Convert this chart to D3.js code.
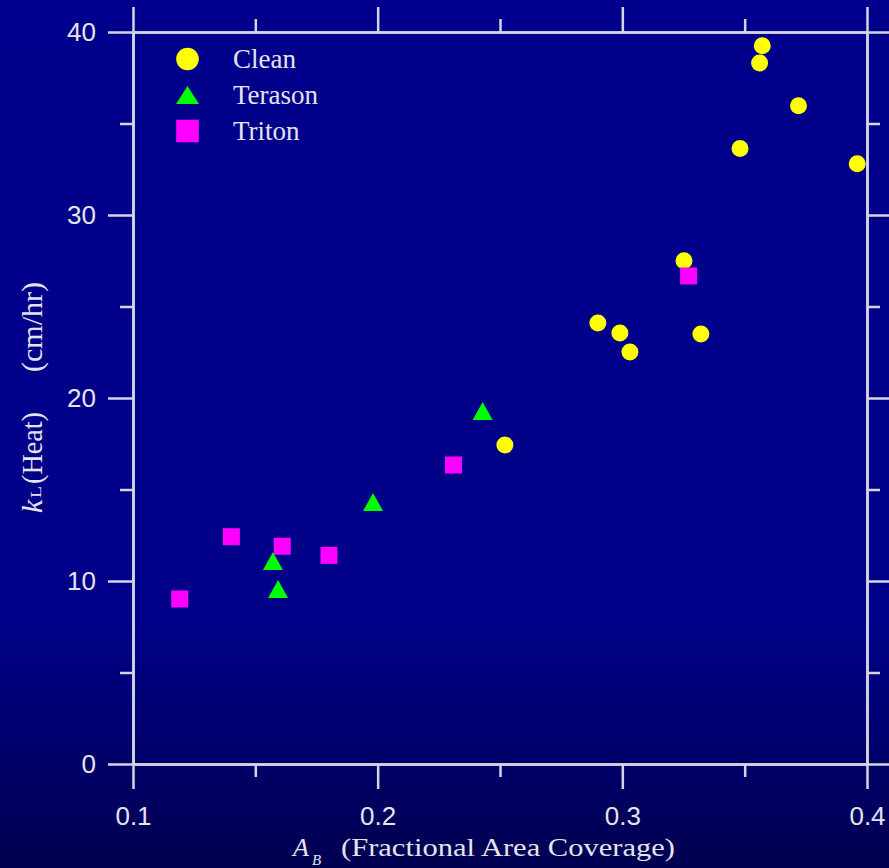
<!DOCTYPE html>
<html>
<head>
<meta charset="utf-8">
<script src="https://cdn.jsdelivr.net/npm/d3@7"></script>
<style>
  html, body { margin: 0; padding: 0; background: #00008b; }
  svg { display: block; }
</style>
</head>
<body>
<svg id="chart" width="889" height="868"></svg>
<script>
// Mass-transfer coefficient vs. fractional area coverage
const cleanX   = [0.3572, 0.3561, 0.3720, 0.3481, 0.3960, 0.3252, 0.2900, 0.2990, 0.3031, 0.3321, 0.2520];
const cleanY   = [39.25, 38.31, 35.97, 33.64, 32.80, 27.50, 24.10, 23.55, 22.51, 23.50, 17.43];
const terasonX = [0.1572, 0.1593, 0.1981, 0.2429];
const terasonY = [11.09, 9.56, 14.32, 19.29];
const tritonX  = [0.1191, 0.1402, 0.1610, 0.1801, 0.2310, 0.3271];
const tritonY  = [9.02, 12.42, 11.90, 11.40, 16.34, 26.67];

const seriesNames = ["Clean", "Terason", "Triton"];
const xMajorTicks = [0.1, 0.2, 0.3, 0.4];
const xMinorTicks = [0.15, 0.25, 0.35];
const yMajorTicks = [0, 10, 20, 30, 40];
const yMinorTicks = [5, 15, 25, 35];

const W = 889, H = 868;
const mLeft = 133, mRight = 867, mTop = 32, mBottom = 764;
const lineColor = "#d4d4e4";
const textColor = "#e4e4ec";

const svg = d3.select("#chart");

// background with darkening toward the bottom
const defs = svg.append("defs");
const grad = defs.append("linearGradient").attr("id", "bg").attr("x1", 0).attr("y1", 0).attr("x2", 0).attr("y2", 1);
grad.append("stop").attr("offset", "0").attr("stop-color", "#00008c");
grad.append("stop").attr("offset", "0.72").attr("stop-color", "#000088");
grad.append("stop").attr("offset", "1").attr("stop-color", "#000050");
svg.append("rect").attr("width", W).attr("height", H).attr("fill", "url(#bg)");

const x = d3.scaleLinear().domain([0.1, 0.4]).range([mLeft, mRight]);
const y = d3.scaleLinear().domain([0, 40]).range([mBottom, mTop]);

const fmtX = d3.format(".1f");

function styleAxis(g) {
  g.selectAll("path.domain").attr("stroke", lineColor).attr("stroke-width", 2.5);
  g.selectAll(".tick line").attr("stroke", lineColor).attr("stroke-width", 2.5);
  g.selectAll("text").attr("fill", textColor)
    .style("font-family", "'Liberation Sans', Arial, Helvetica, sans-serif")
    .style("font-size", "26px");
}

// minor ticks (short), drawn first
svg.append("g").attr("transform", `translate(0,${mBottom})`)
  .call(d3.axisBottom(x).tickValues(xMinorTicks).tickSize(13).tickSizeOuter(0).tickFormat(""))
  .call(styleAxis);
svg.append("g").attr("transform", `translate(0,${mTop})`)
  .call(d3.axisTop(x).tickValues(xMinorTicks).tickSize(13).tickSizeOuter(0).tickFormat(""))
  .call(styleAxis);
svg.append("g").attr("transform", `translate(${mLeft},0)`)
  .call(d3.axisLeft(y).tickValues(yMinorTicks).tickSize(13).tickSizeOuter(0).tickFormat(""))
  .call(styleAxis);
svg.append("g").attr("transform", `translate(${mRight},0)`)
  .call(d3.axisRight(y).tickValues(yMinorTicks).tickSize(13).tickSizeOuter(0).tickFormat(""))
  .call(styleAxis);

// major ticks with labels on bottom and left
svg.append("g").attr("transform", `translate(0,${mBottom})`)
  .call(d3.axisBottom(x).tickValues(xMajorTicks).tickSize(25).tickSizeOuter(0).tickPadding(18).tickFormat(fmtX))
  .call(styleAxis);
svg.append("g").attr("transform", `translate(0,${mTop})`)
  .call(d3.axisTop(x).tickValues(xMajorTicks).tickSize(25).tickSizeOuter(0).tickFormat(""))
  .call(styleAxis);
svg.append("g").attr("transform", `translate(${mLeft},0)`)
  .call(d3.axisLeft(y).tickValues(yMajorTicks).tickSize(25).tickSizeOuter(0).tickPadding(12).tickFormat(d3.format("d")))
  .call(styleAxis);
svg.append("g").attr("transform", `translate(${mRight},0)`)
  .call(d3.axisRight(y).tickValues(yMajorTicks).tickSize(25).tickSizeOuter(0).tickFormat(""))
  .call(styleAxis);

// marker shapes
const triPath = (w, h) => `M0,${-h / 2}L${w / 2},${h / 2}L${-w / 2},${h / 2}Z`;

const clean = cleanX.map((v, i) => ({ x: v, y: cleanY[i] }));
const terason = terasonX.map((v, i) => ({ x: v, y: terasonY[i] }));
const triton = tritonX.map((v, i) => ({ x: v, y: tritonY[i] }));

const plot = svg.append("g");

plot.selectAll("circle.clean").data(clean).join("circle")
  .attr("class", "clean")
  .attr("cx", d => x(d.x)).attr("cy", d => y(d.y)).attr("r", 8.5)
  .attr("fill", "#ffff00");

plot.selectAll("path.terason").data(terason).join("path")
  .attr("class", "terason")
  .attr("d", triPath(20, 18))
  .attr("transform", d => `translate(${x(d.x)},${y(d.y)})`)
  .attr("fill", "#00ff00");

const sq = 17;
plot.selectAll("rect.triton").data(triton).join("rect")
  .attr("class", "triton")
  .attr("x", d => x(d.x) - sq / 2).attr("y", d => y(d.y) - sq / 2)
  .attr("width", sq).attr("height", sq)
  .attr("fill", "#ff00ff");

// legend
const legend = svg.append("g").attr("transform", "translate(187.5,59)");
const rowGap = 36;
const serif = "'Liberation Serif', 'Times New Roman', Times, serif";
legend.append("circle").attr("cx", 0).attr("cy", 0).attr("r", 11.3).attr("fill", "#ffff00");
legend.append("path").attr("d", triPath(23, 18)).attr("transform", `translate(0,${rowGap})`).attr("fill", "#00ff00");
legend.append("rect").attr("x", -11.3).attr("y", 2 * rowGap - 11.3).attr("width", 22.6).attr("height", 22.6).attr("fill", "#ff00ff");
legend.selectAll("text").data(seriesNames).join("text")
  .attr("x", 45.5).attr("y", (d, i) => i * rowGap + 9)
  .attr("fill", textColor)
  .style("font-family", serif).style("font-size", "27px")
  .text(d => d);

// x-axis title
const xt = svg.append("g").attr("fill", textColor).style("font-family", serif);
xt.append("text").attr("x", 293).attr("y", 856)
  .style("font-size", "26px").style("font-style", "italic").text("A");
xt.append("text").attr("x", 312).attr("y", 865)
  .style("font-size", "15px").style("font-style", "italic").text("B");
xt.append("text").attr("x", 341).attr("y", 856)
  .style("font-size", "26px")
  .attr("textLength", 334).attr("lengthAdjust", "spacingAndGlyphs")
  .text("(Fractional Area Coverage)");

// y-axis title (rotated)
const yt = svg.append("g").attr("fill", textColor).style("font-family", serif);
yt.append("text").attr("transform", "translate(42,513) rotate(-90)")
  .style("font-size", "30px").style("font-style", "italic").text("k");
yt.append("text").attr("transform", "translate(41,498) rotate(-90)")
  .style("font-size", "14px")
  .attr("textLength", 12).attr("lengthAdjust", "spacingAndGlyphs")
  .text("L");
yt.append("text").attr("transform", "translate(42,484) rotate(-90)")
  .style("font-size", "30px")
  .attr("textLength", 72).attr("lengthAdjust", "spacingAndGlyphs")
  .text("(Heat)");
yt.append("text").attr("transform", "translate(42,372) rotate(-90)")
  .style("font-size", "30px")
  .attr("textLength", 90).attr("lengthAdjust", "spacingAndGlyphs")
  .text("(cm/hr)");
</script>
</body>
</html>
